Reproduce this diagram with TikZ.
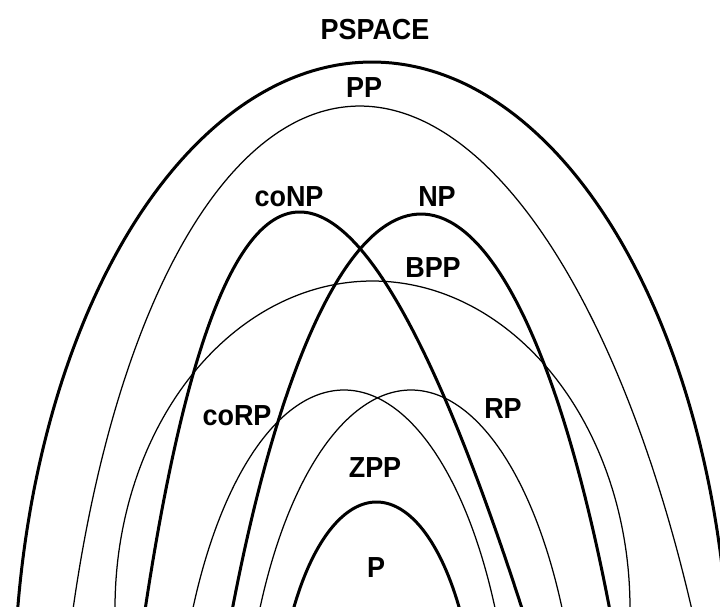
\documentclass[tikz,border=0pt]{standalone}
\usepackage{fontspec}
\setmainfont{Liberation Sans}
\begin{document}
\begin{tikzpicture}[x=1pt,y=-1pt,
  thickcurve/.style={line width=3pt},
  thincurve/.style={line width=1.25pt},
  lbl/.style={font=\fontsize{29}{29}\selectfont\bfseries, inner sep=0pt}]
\useasboundingbox (0,0) rectangle (720,607);
\begin{scope}
\clip (0,0) rectangle (720,607);
% PSPACE
\draw[thickcurve] plot[domain=0:180, samples=200, variable=\t] ({372+358*cos(\t)}, {700-638*sin(\t)});
% PP
\draw[thincurve] plot[domain=15:165, samples=200, variable=\t] ({373+0.045*(600-894*sin(\t))+344*cos(\t)}, {1000-894*sin(\t)});
% coNP (parabola)
\draw[thickcurve] plot[domain=-24:24, samples=200, variable=\v] ({299.7+0.0856*\v*\v+9.46*\v}, {212+\v*\v});
% NP
\draw[thickcurve] plot[domain=35:145, samples=200, variable=\t] ({421+254.4*cos(\t)}, {1414-1200*sin(\t)});
% BPP
\draw[thincurve] plot[domain=0:180, samples=200, variable=\t] ({372.5+257.5*cos(\t)}, {608-327*sin(\t)});
% coRP
\draw[thincurve] plot[domain=20:160, samples=200, variable=\t] ({344+169.6*cos(\t)}, {790-400*sin(\t)});
% RP
\draw[thincurve] plot[domain=20:160, samples=200, variable=\t] ({411+169.6*cos(\t)}, {790-400*sin(\t)});
% P
\draw[thickcurve] plot[domain=20:160, samples=200, variable=\t] ({376.5+101.3*cos(\t)}, {752-250*sin(\t)});
\end{scope}
\node[lbl] (lpspace) at (375,30) {\scalebox{0.93}[1]{PSPACE}};
\node[lbl] (lpp) at (364,88) {\scalebox{0.93}[1]{PP}};
\node[lbl] (lconp) at (289,197) {\scalebox{0.93}[1]{coNP}};
\node[lbl] (lnp) at (437,197) {\scalebox{0.93}[1]{NP}};
\node[lbl] (lbpp) at (433,268) {\scalebox{0.93}[1]{BPP}};
\node[lbl] (lcorp) at (237,416) {\scalebox{0.93}[1]{coRP}};
\node[lbl] (lrp) at (503,409) {\scalebox{0.93}[1]{RP}};
\node[lbl] (lzpp) at (375,468) {\scalebox{0.93}[1]{ZPP}};
\node[lbl] (lp) at (376,568) {\scalebox{0.93}[1]{P}};
\end{tikzpicture}
\end{document}
